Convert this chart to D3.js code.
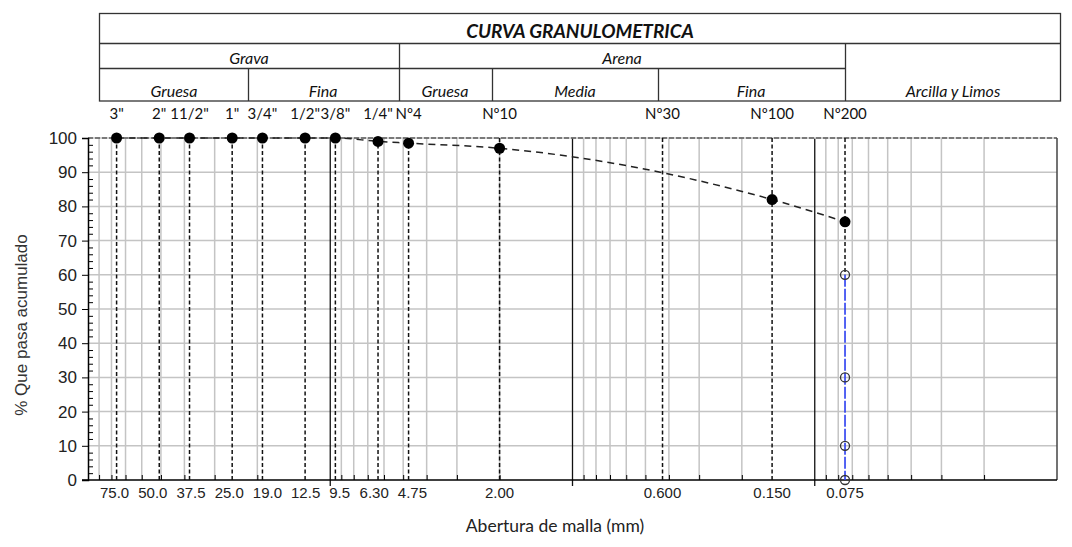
<!DOCTYPE html>
<html>
<head>
<meta charset="utf-8">
<script src="https://cdn.jsdelivr.net/npm/d3@7"></script>
<style>
  body { margin: 0; background: #fff; }
  svg { display: block; }
</style>
</head>
<body>
<svg id="chart" width="1072" height="547"></svg>
<script>
// sieves (top labels), plotted opening in mm, printed opening label
const sieveNames = ['3"', '2"', '11/2"', '1"', '3/4"', '1/2"', '3/8"', '1/4"', 'Nº4', 'Nº10', 'Nº30', 'Nº100', 'Nº200'];
const sieveOpening = [76.2, 50.8, 38.1, 25.4, 19.05, 12.7, 9.525, 6.35, 4.75, 2.0, 0.425, 0.15, 0.075];
const openingLabels = ['75.0', '50.0', '37.5', '25.0', '19.0', '12.5', '9.5', '6.30', '4.75', '2.00', '0.600', '0.150', '0.075'];
// % passing (null = no reading)
const percentPassing = [100, 100, 100, 100, 100, 100, 100, 99, 98.5, 97, null, 82, 75.5];
// open markers on the Nº200 line
const finesMarks = [60, 30, 10, 0];
const yTicks = [0, 10, 20, 30, 40, 50, 60, 70, 80, 90, 100];

const svg = d3.select('#chart');

const x = d3.scaleLog().domain([100, 0.01]).range([88, 1057]);
const y = d3.scaleLinear().domain([0, 100]).range([480, 138]);

const calibri = 'Lato, "Open Sans", sans-serif';
const arial = '"Liberation Sans", Arial, sans-serif';

// ---- header table ----
const head = svg.append('g').attr('stroke', '#333').attr('stroke-width', 1.3).attr('fill', 'none');
head.append('rect').attr('x', 99.5).attr('y', 13.5).attr('width', 961).attr('height', 87.5);
head.append('line').attr('x1', 99.5).attr('x2', 1060.5).attr('y1', 43.5).attr('y2', 43.5);
head.append('line').attr('x1', 99.5).attr('x2', 845.5).attr('y1', 68.5).attr('y2', 68.5);
[[399.5, 43.5], [845.5, 43.5], [248.5, 68.5], [492.5, 68.5], [658.5, 68.5]].forEach(function (v) {
  head.append('line').attr('x1', v[0]).attr('x2', v[0]).attr('y1', v[1]).attr('y2', 101);
});

const headText = svg.append('g').attr('font-family', calibri).attr('font-style', 'italic')
  .attr('font-size', 16).attr('text-anchor', 'middle').attr('fill', '#111');
headText.append('text').attr('x', 580).attr('y', 38).attr('font-weight', 'bold').attr('font-size', 19)
  .text('CURVA GRANULOMETRICA');
headText.append('text').attr('x', 249).attr('y', 64).text('Grava');
headText.append('text').attr('x', 622).attr('y', 64).text('Arena');
[['Gruesa', 174], ['Fina', 323], ['Gruesa', 445], ['Media', 575], ['Fina', 751], ['Arcilla y Limos', 953]]
  .forEach(function (c) {
    headText.append('text').attr('x', c[1]).attr('y', 97).text(c[0]);
  });

// ---- grid ----
const grid = svg.append('g');
const minors = [];
[0.01, 0.1, 1, 10].forEach(function (d) {
  for (let k = 2; k <= 9; k++) minors.push(d * k);
});
grid.selectAll('line.vmin').data(minors).join('line')
  .attr('x1', d => x(d)).attr('x2', d => x(d)).attr('y1', y(100)).attr('y2', y(0))
  .attr('stroke', '#c4c4c4').attr('stroke-width', 1.5);
grid.selectAll('line.hmin').data(yTicks.slice(1, 10)).join('line')
  .attr('x1', x(100)).attr('x2', x(0.01)).attr('y1', d => y(d)).attr('y2', d => y(d))
  .attr('stroke', '#c4c4c4').attr('stroke-width', 1.5);
// decade lines
grid.selectAll('line.dec').data([10, 1, 0.1]).join('line')
  .attr('x1', d => x(d)).attr('x2', d => x(d)).attr('y1', y(100)).attr('y2', y(0) + 6)
  .attr('stroke', '#111').attr('stroke-width', 1.3);
// frame: dashed top, solid right
grid.append('line').attr('x1', x(100)).attr('x2', x(0.01)).attr('y1', y(100)).attr('y2', y(100))
  .attr('stroke', '#c4c4c4').attr('stroke-width', 1.5);
grid.append('line').attr('x1', x(100)).attr('x2', x(0.01)).attr('y1', y(100)).attr('y2', y(100))
  .attr('stroke', '#222').attr('stroke-width', 1.2).attr('stroke-dasharray', '5,2');
grid.append('line').attr('x1', x(0.01)).attr('x2', x(0.01)).attr('y1', y(100)).attr('y2', y(0))
  .attr('stroke', '#444').attr('stroke-width', 1.5);

// ---- axes ----
const yAxis = svg.append('g').attr('transform', `translate(${x(100)},0)`)
  .call(d3.axisLeft(y).tickValues(yTicks).tickSize(6).tickPadding(5));
yAxis.select('.domain').attr('stroke-width', 1.5);
yAxis.selectAll('text').attr('font-family', arial).attr('font-size', 17).attr('fill', '#222');
const yMinor = d3.range(0, 100, 2).filter(d => d % 10 !== 0);
svg.append('g').attr('transform', `translate(${x(100)},0)`)
  .call(d3.axisRight(y).tickValues(yMinor).tickSize(5).tickFormat(''))
  .call(g => g.select('.domain').remove());

const xAxis = svg.append('g').attr('transform', `translate(0,${y(0)})`)
  .call(d3.axisTop(x).tickValues(minors).tickSize(5).tickFormat(''));
xAxis.select('.domain').attr('d', `M${x(100) - 6},0H${x(0.01)}`).attr('stroke-width', 1.5);

// opening labels under the axis, nudged apart so they don't overlap
const openLbl = svg.append('g').attr('font-family', arial).attr('font-size', 15).attr('fill', '#222')
  .attr('text-anchor', 'middle')
  .selectAll('text').data(openingLabels).join('text')
  .attr('x', (d, i) => x(sieveOpening[i])).attr('y', 498).text(d => d);
const boxes = openLbl.nodes().map((n, i) => ({ n: n, c: x(sieveOpening[i]), w: n.getComputedTextLength() }));
for (let it = 0; it < 60; it++) {
  for (let i = 1; i < boxes.length; i++) {
    const a = boxes[i - 1], b = boxes[i];
    const need = (a.w + b.w) / 2 + 9;
    const gap = b.c - a.c;
    if (gap < need) {
      const push = (need - gap) / 2;
      a.c -= push;
      b.c += push;
    }
  }
}
boxes.forEach(b => d3.select(b.n).attr('x', b.c));

svg.append('g').attr('font-family', calibri).attr('font-size', 15).attr('fill', '#111')
  .attr('text-anchor', 'middle')
  .selectAll('text').data(sieveNames).join('text')
  .attr('x', (d, i) => x(sieveOpening[i])).attr('y', 119).text(d => d);

svg.append('text').attr('x', 555).attr('y', 532).attr('text-anchor', 'middle')
  .attr('font-family', calibri).attr('font-size', 17.5).attr('fill', '#222')
  .text('Abertura de malla (mm)');
svg.append('text').attr('transform', 'translate(27,325) rotate(-90)').attr('text-anchor', 'middle')
  .attr('font-family', arial).attr('font-size', 17).attr('fill', '#333')
  .text('% Que pasa acumulado');

// ---- sieve guide lines ----
const last = sieveOpening.length - 1;
svg.append('g').selectAll('line').data(sieveOpening).join('line')
  .attr('x1', d => x(d)).attr('x2', d => x(d))
  .attr('y1', y(100)).attr('y2', (d, i) => i === last ? y(finesMarks[0]) : y(0))
  .attr('stroke', '#111').attr('stroke-width', 1.5).attr('stroke-dasharray', '4,2.5');

// fines line (blue)
svg.append('line')
  .attr('x1', x(sieveOpening[last])).attr('x2', x(sieveOpening[last]))
  .attr('y1', y(d3.max(finesMarks))).attr('y2', y(d3.min(finesMarks)))
  .attr('stroke', '#2b3df0').attr('stroke-width', 1.6).attr('stroke-dasharray', '12,2');

// ---- grading curve ----
const pts = sieveOpening.map((d, i) => ({ mm: d, p: percentPassing[i] })).filter(d => d.p != null);
svg.append('path').datum(pts)
  .attr('d', d3.line().x(d => x(d.mm)).y(d => y(d.p)).curve(d3.curveMonotoneX))
  .attr('fill', 'none').attr('stroke', '#222').attr('stroke-width', 1.5).attr('stroke-dasharray', '7,5');

svg.append('g').selectAll('circle').data(pts).join('circle')
  .attr('cx', d => x(d.mm)).attr('cy', d => y(d.p)).attr('r', 5.5).attr('fill', '#000');

svg.append('g').selectAll('circle').data(finesMarks).join('circle')
  .attr('cx', x(sieveOpening[last])).attr('cy', d => y(d)).attr('r', 4.5)
  .attr('fill', 'none').attr('stroke', '#333').attr('stroke-width', 1.3);
</script>
</body>
</html>
